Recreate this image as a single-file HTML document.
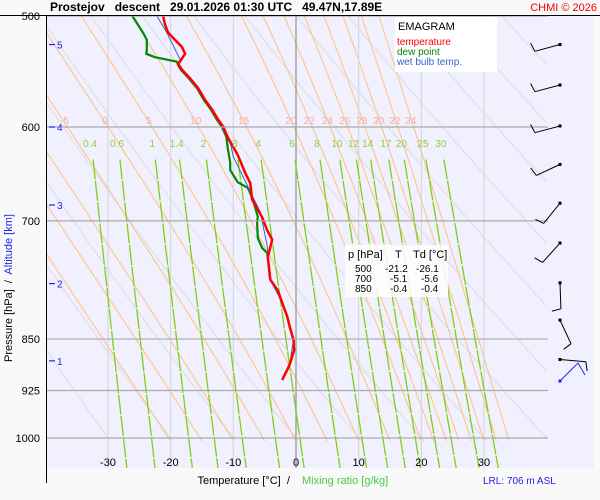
<!DOCTYPE html>
<html><head><meta charset="utf-8"><style>
html,body{margin:0;padding:0;background:#f9f9f9;}
svg{display:block;font-family:"Liberation Sans",sans-serif;}
</style></head><body>
<svg id="c" width="600" height="500" viewBox="0 0 600 500" xmlns="http://www.w3.org/2000/svg">
<defs><clipPath id="pc"><rect x="46" y="16" width="500" height="452"/></clipPath></defs>
<rect x="46" y="16" width="548" height="452" fill="#f0f0fe"/>
<g id="grid" clip-path="url(#pc)"></g>
<g id="series" clip-path="url(#pc)"></g>
<g id="axes"></g>
<line x1="0" y1="15.5" x2="600" y2="15.5" stroke="#000"/>
<text x="50" y="11" font-size="12" font-weight="bold" xml:space="preserve" style="white-space:pre">Prostejov   descent   29.01.2026 01:30 UTC   49.47N,17.89E</text>
<text x="597" y="11" font-size="11" fill="#e00" text-anchor="end">CHMI © 2026</text>
<g>
<rect x="395" y="17" width="102" height="55" fill="#fff"/>
<text x="398" y="30" font-size="11">EMAGRAM</text>
<text x="397" y="45" font-size="10" fill="#f00">temperature</text>
<text x="397" y="55" font-size="10" fill="#080">dew point</text>
<text x="397" y="65" font-size="10" fill="#36c">wet bulb temp.</text>
</g>
<g font-size="10">
<rect x="345" y="245" width="103" height="52" fill="#fff" opacity="0.85"/>
<text x="348" y="258" font-size="11">p [hPa]</text><text x="395" y="258" font-size="11">T</text><text x="413" y="258" font-size="11">Td [°C]</text>
<text x="355" y="272">500</text><text x="385" y="272">-21.2</text><text x="416" y="272">-26.1</text>
<text x="355" y="282">700</text><text x="390" y="282">-5.1</text><text x="421" y="282">-5.6</text>
<text x="355" y="292">850</text><text x="390" y="292">-0.4</text><text x="421" y="292">-0.4</text>
</g>
<text x="296" y="484" font-size="11" text-anchor="end" xml:space="preserve" style="white-space:pre">Temperature [°C]  /  </text>
<text x="302" y="484" font-size="11" fill="#4c4">Mixing ratio [g/kg]</text>
<text x="483" y="484" font-size="10" fill="#22e">LRL: 706 m ASL</text>
<text transform="translate(12,362) rotate(-90)" font-size="11" xml:space="preserve" style="white-space:pre">Pressure [hPa]  /  <tspan fill="#22e">Altitude [km]</tspan></text>
</svg>
<script>
const tPres=[500,507,514,520,526,532,541,546,554,563,574,583,593,600,610,618,628,647,658,676,682,696,711,722,743,771,785,801,819,833,851,866,886,894,909];
const tVals=[-21.2,-20.9,-20.4,-19.3,-18.2,-17.7,-18.8,-18.2,-16.9,-15.6,-14.5,-13.4,-12.4,-11.6,-10.9,-10.2,-9.3,-8.1,-7.3,-7.0,-6.5,-5.4,-4.6,-3.8,-4.5,-4.1,-2.9,-2.2,-1.4,-1.0,-0.4,-0.3,-1.0,-1.4,-2.2];
const tdPres=[500,514,520,529,532,535,539,542,546,554,563,574,583,593,600,610,621,636,644,657,663,669,676,695,702,720,732,738,743,771,785,801,819,833,851,866,886,894,909];
const tdVals=[-26.1,-24.4,-23.8,-23.8,-23.9,-22.5,-19.0,-18.8,-18.4,-17.1,-15.8,-14.7,-13.6,-12.6,-11.8,-11.1,-10.9,-10.5,-10.5,-9.3,-7.7,-7.3,-6.9,-6.1,-6.2,-6.1,-5.4,-4.6,-4.5,-4.1,-2.9,-2.2,-1.4,-1.0,-0.4,-0.3,-1.0,-1.4,-2.2];
const twPres=[500,514,537,541,546,563,583,600,618,630,660,690,729,743,771,801,833,851,886,909];
const twVals=[-22.2,-20.6,-18.5,-18.8,-18.4,-15.8,-13.6,-11.8,-10.4,-10.0,-7.8,-5.7,-4.6,-4.5,-4.1,-2.2,-1.0,-0.4,-1.0,-2.2];
const presTicks=[500,600,700,850,925,1000];
const tempTicks=[-30,-20,-10,0,10,20,30];
const altKm=[5,4,3,2,1];
const altPres=[524,600,682,776,881];
const mixRatios=[0.4,0.6,1,1.4,2,3,4,6,8,10,12,14,17,20,25,30];
const thetaW=[-20,-15,-10,-5,0,5,10,15,20,22,24,26,28,30,32,34];
const thetaWLabels=[-5,0,5,10,15,20,22,24,26,28,30,32,34];
const windDir=[255,255,255,245,219,222,178,155,95];
const windSpd=[10,10,10,10,10,10,10,10,10];
const windPres=[524,560,599,638,680,726,775,824,879];

const NS='http://www.w3.org/2000/svg';
const X=t=>296+t*6.267;
const Y=p=>16+608.8*Math.log(p/500);
const grid=document.getElementById('grid'),ser=document.getElementById('series'),axes=document.getElementById('axes');
function mk(tag,at,par){const e=document.createElementNS(NS,tag);for(const k in at)e.setAttribute(k,at[k]);par.appendChild(e);return e;}
function es(t){return 6.112*Math.exp(17.67*t/(t+243.5));}
function tdFromE(e){const l=Math.log(e/6.112);return 243.5*l/(17.67-l);}

for(let th=-30;th<=220;th+=10){let pts=[];for(let p=1005;p>=480;p-=5){pts.push(X((th+273.15)*Math.pow(p/1000,0.286)-273.15).toFixed(1)+','+Y(p).toFixed(1));}
const e=mk('polyline',{points:pts.join(' '),fill:'none',stroke:'#dcdce2','stroke-width':1},grid);
}
function moist(tw){let T=tw+273.15,p=1005,pts=[];const Rd=287,cp=1005,L=2.5e6,eps=0.622;
while(p>=480){pts.push([T-273.15,p]);const rs=eps*es(T-273.15)/(p-es(T-273.15));
const g=(Rd*T+L*rs)/(cp+L*L*rs*eps/(Rd*T*T))/p;const dp=-2.5;T+=g*dp;p+=dp;}return pts;}
thetaW.forEach(tw=>{const pts=moist(tw).map(a=>X(a[0]).toFixed(1)+','+Y(a[1]).toFixed(1));
const e=mk('polyline',{points:pts.join(' '),fill:'none',stroke:'#ffc080','stroke-width':1},grid);
});
thetaWLabels.forEach(tw=>{const pts=moist(tw);let best=pts[0];pts.forEach(a=>{if(Math.abs(a[1]-600)<Math.abs(best[1]-600))best=a;});
const t=mk('text',{x:X(best[0])-3,y:124,'font-size':10,fill:'#f5b0a0','text-anchor':'middle'},axes);t.textContent=tw;
});
tempTicks.forEach(t=>{const e=mk('line',{x1:X(t),x2:X(t),y1:16,y2:468,stroke:t===0?'#999':'#d4d4d8','stroke-width':t===0?1.3:1},grid);
});
mixRatios.forEach(w=>{let pts=[];for(let p=633;p<=1055;p+=6){pts.push(X(tdFromE(w*p/(622+w))).toFixed(1)+','+Y(p).toFixed(1));}
const e=mk('polyline',{points:pts.join(' '),fill:'none',stroke:'#80d010','stroke-width':1.3,'stroke-dasharray':'20 1.5'},grid);

const t=mk('text',{x:X(tdFromE(w*633/(622+w)))-3,y:147,'font-size':10,fill:'#90d040','text-anchor':'middle'},axes);t.textContent=w;
});
presTicks.forEach(p=>{const e=mk('line',{x1:46,x2:548,y1:Y(p),y2:Y(p),stroke:'#aaa','stroke-width':1.2},axes);

const t=mk('text',{x:40,y:Y(p)+4,'font-size':11,'text-anchor':'end'},axes);t.textContent=p;
});
tempTicks.forEach(t0=>{const t=mk('text',{x:X(t0),y:466,'font-size':11,'text-anchor':'middle'},axes);t.textContent=t0;
});
altKm.forEach((k,i)=>{const y=Y(altPres[i]);mk('line',{x1:49,x2:55,y1:y,y2:y,stroke:'#22e','stroke-width':1.2},axes);
const t=mk('text',{x:57,y:y+4,'font-size':10,fill:'#22e'},axes);t.textContent=k;
});
const ax=mk('line',{x1:46.5,x2:46.5,y1:16,y2:483,stroke:'#000'},axes);

function prof(P,V,col,w,name){const pts=P.map((p,i)=>X(V[i]).toFixed(1)+','+Y(p).toFixed(1));
const e=mk('polyline',{points:pts.join(' '),fill:'none',stroke:col,'stroke-width':w,'stroke-linejoin':'round'},ser);
}
prof(tdPres,tdVals,'#080',2.2,'dew-point-line');
prof(twPres,twVals,'#36c',1,'wet-bulb-line');
prof(tPres,tVals,'#f00',2.5,'temperature-line');
windDir.forEach((d,i)=>{const cx=560,cy=Y(windPres[i]);const r=d*Math.PI/180;const ux=Math.sin(r),uy=-Math.cos(r);
const ex=cx+26*ux,ey=cy+26*uy;const n=Math.round(windSpd[i]/10);let s='M'+cx+','+cy+' L'+ex.toFixed(1)+','+ey.toFixed(1);
for(let k=0;k<n;k++){const bx=ex-k*4*ux,by=ey-k*4*uy;s+=' M'+bx.toFixed(1)+','+by.toFixed(1)+' L'+(bx-9*uy+2*ux).toFixed(1)+','+(by+9*ux+2*uy).toFixed(1);}
const e=mk('path',{d:s,fill:'none',stroke:'#000','stroke-width':1},axes);

mk('rect',{x:cx-1.5,y:cy-1.5,width:3,height:3,fill:'#000'},axes);});
const bb=mk('path',{d:'M560,381 L578,363 L585,375',fill:'none',stroke:'#22e','stroke-width':1},axes);

mk('rect',{x:558.5,y:379.5,width:3,height:3,fill:'#22e'},axes);
</script>
</body></html>
